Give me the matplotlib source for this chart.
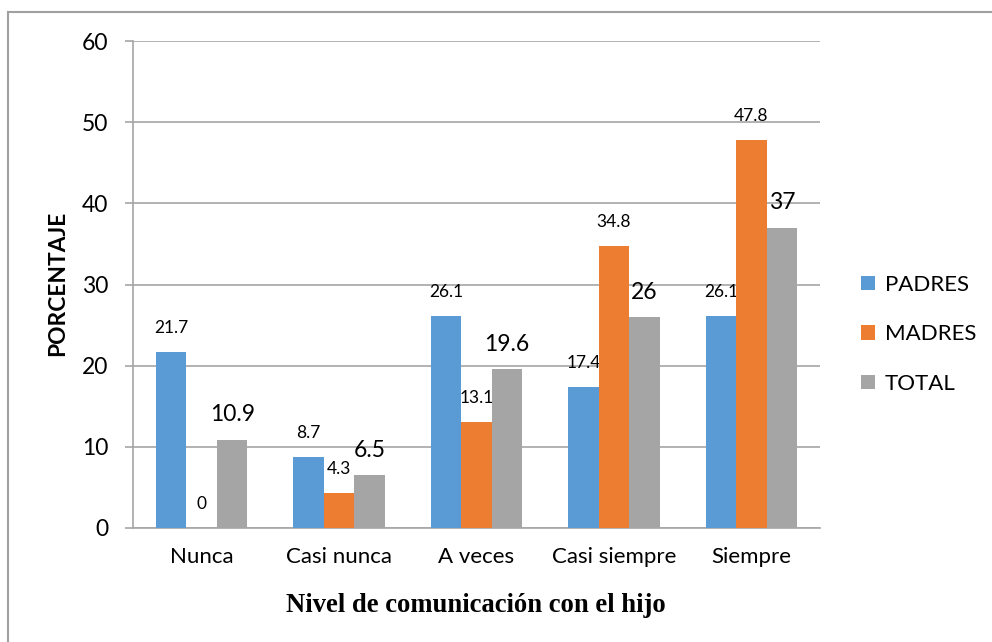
import matplotlib
matplotlib.use("Agg")
import matplotlib.pyplot as plt
from matplotlib.lines import Line2D
from matplotlib.patches import Patch
import numpy as np

categories = ["Nunca", "Casi nunca", "A veces", "Casi siempre", "Siempre"]
series_names = ["PADRES", "MADRES", "TOTAL"]
padres = [21.7, 8.7, 26.1, 17.4, 26.1]
madres = [0, 4.3, 13.1, 34.8, 47.8]
total = [10.9, 6.5, 19.6, 26, 37]
yticks = [0, 10, 20, 30, 40, 50, 60]

colors = ["#5B9BD5", "#ED7D31", "#A5A5A5"]
grid_c = "#A6A6A6"

plt.rcParams['font.family'] = ['Lato', 'DejaVu Sans']

W, H = 992, 642
fig = plt.figure(figsize=(W/100, H/100), dpi=100)
ax = fig.add_axes([133/W, 1-528/H, (820-133)/W, (528-41)/H])

x = np.arange(len(categories))
bw = 0.222
data = [padres, madres, total]
for i, (vals, c) in enumerate(zip(data, colors)):
    pos = x + (i-1)*bw
    ax.bar(pos, vals, width=bw, color=c, zorder=3, label=series_names[i])
    for px, v in zip(pos, vals):
        lab = f"{v:g}"
        if i == 2:
            ax.annotate(lab, (px, v), xytext=(0, 17.8), textcoords='offset points',
                        ha='center', va='center', fontsize=16.5, color='black')
        else:
            ax.annotate(lab, (px, v), xytext=(0, 17.3), textcoords='offset points',
                        ha='center', va='center', fontsize=12.5, color='black')

ax.set_xlim(-0.5, len(categories)-0.5)
ax.set_ylim(0, 60)
ax.set_yticks(yticks)
ax.set_yticklabels([str(t) for t in yticks], fontsize=16.5)
ax.set_xticks(x)
ax.set_xticklabels(categories, fontsize=16)
ax.yaxis.grid(True, color=grid_c, linewidth=1.2, zorder=0)
ax.set_axisbelow(True)
for s in ['top', 'right']:
    ax.spines[s].set_visible(False)
ax.spines['left'].set_color(grid_c)
ax.spines['bottom'].set_color(grid_c)
ax.spines['left'].set_linewidth(1.2)
ax.spines['bottom'].set_linewidth(1.2)
ax.tick_params(axis='y', length=6, color=grid_c, width=1.2, pad=12)
ax.tick_params(axis='x', length=0, pad=14)

fig.text(58/W, 1-283/H, "PORCENTAJE", rotation=90, ha='center', va='center',
         fontsize=16.4, fontweight='bold')
fig.text(476/W, 1-605/H, "Nivel de comunicación con el hijo", ha='center', va='center',
         fontsize=19.2, fontweight='bold', family='Liberation Serif')

handles = [Patch(facecolor=c) for c in colors]
fig.legend(handles, series_names, loc='upper left', bbox_to_anchor=(861/W, 1-275/H),
           frameon=False, fontsize=16, handlelength=0.62, handleheight=0.62,
           handletextpad=0.45, labelspacing=1.32, borderaxespad=0, borderpad=0)

# outer border (only top and left visible)
fig.add_artist(Line2D([7.5/W, 7.5/W], [0, 1-11.5/H], transform=fig.transFigure, color='#A0A0A0', linewidth=1.5))
fig.add_artist(Line2D([7.5/W, 1], [1-11.5/H, 1-11.5/H], transform=fig.transFigure, color='#A0A0A0', linewidth=1.5))

fig.savefig("out.png", dpi=100)
